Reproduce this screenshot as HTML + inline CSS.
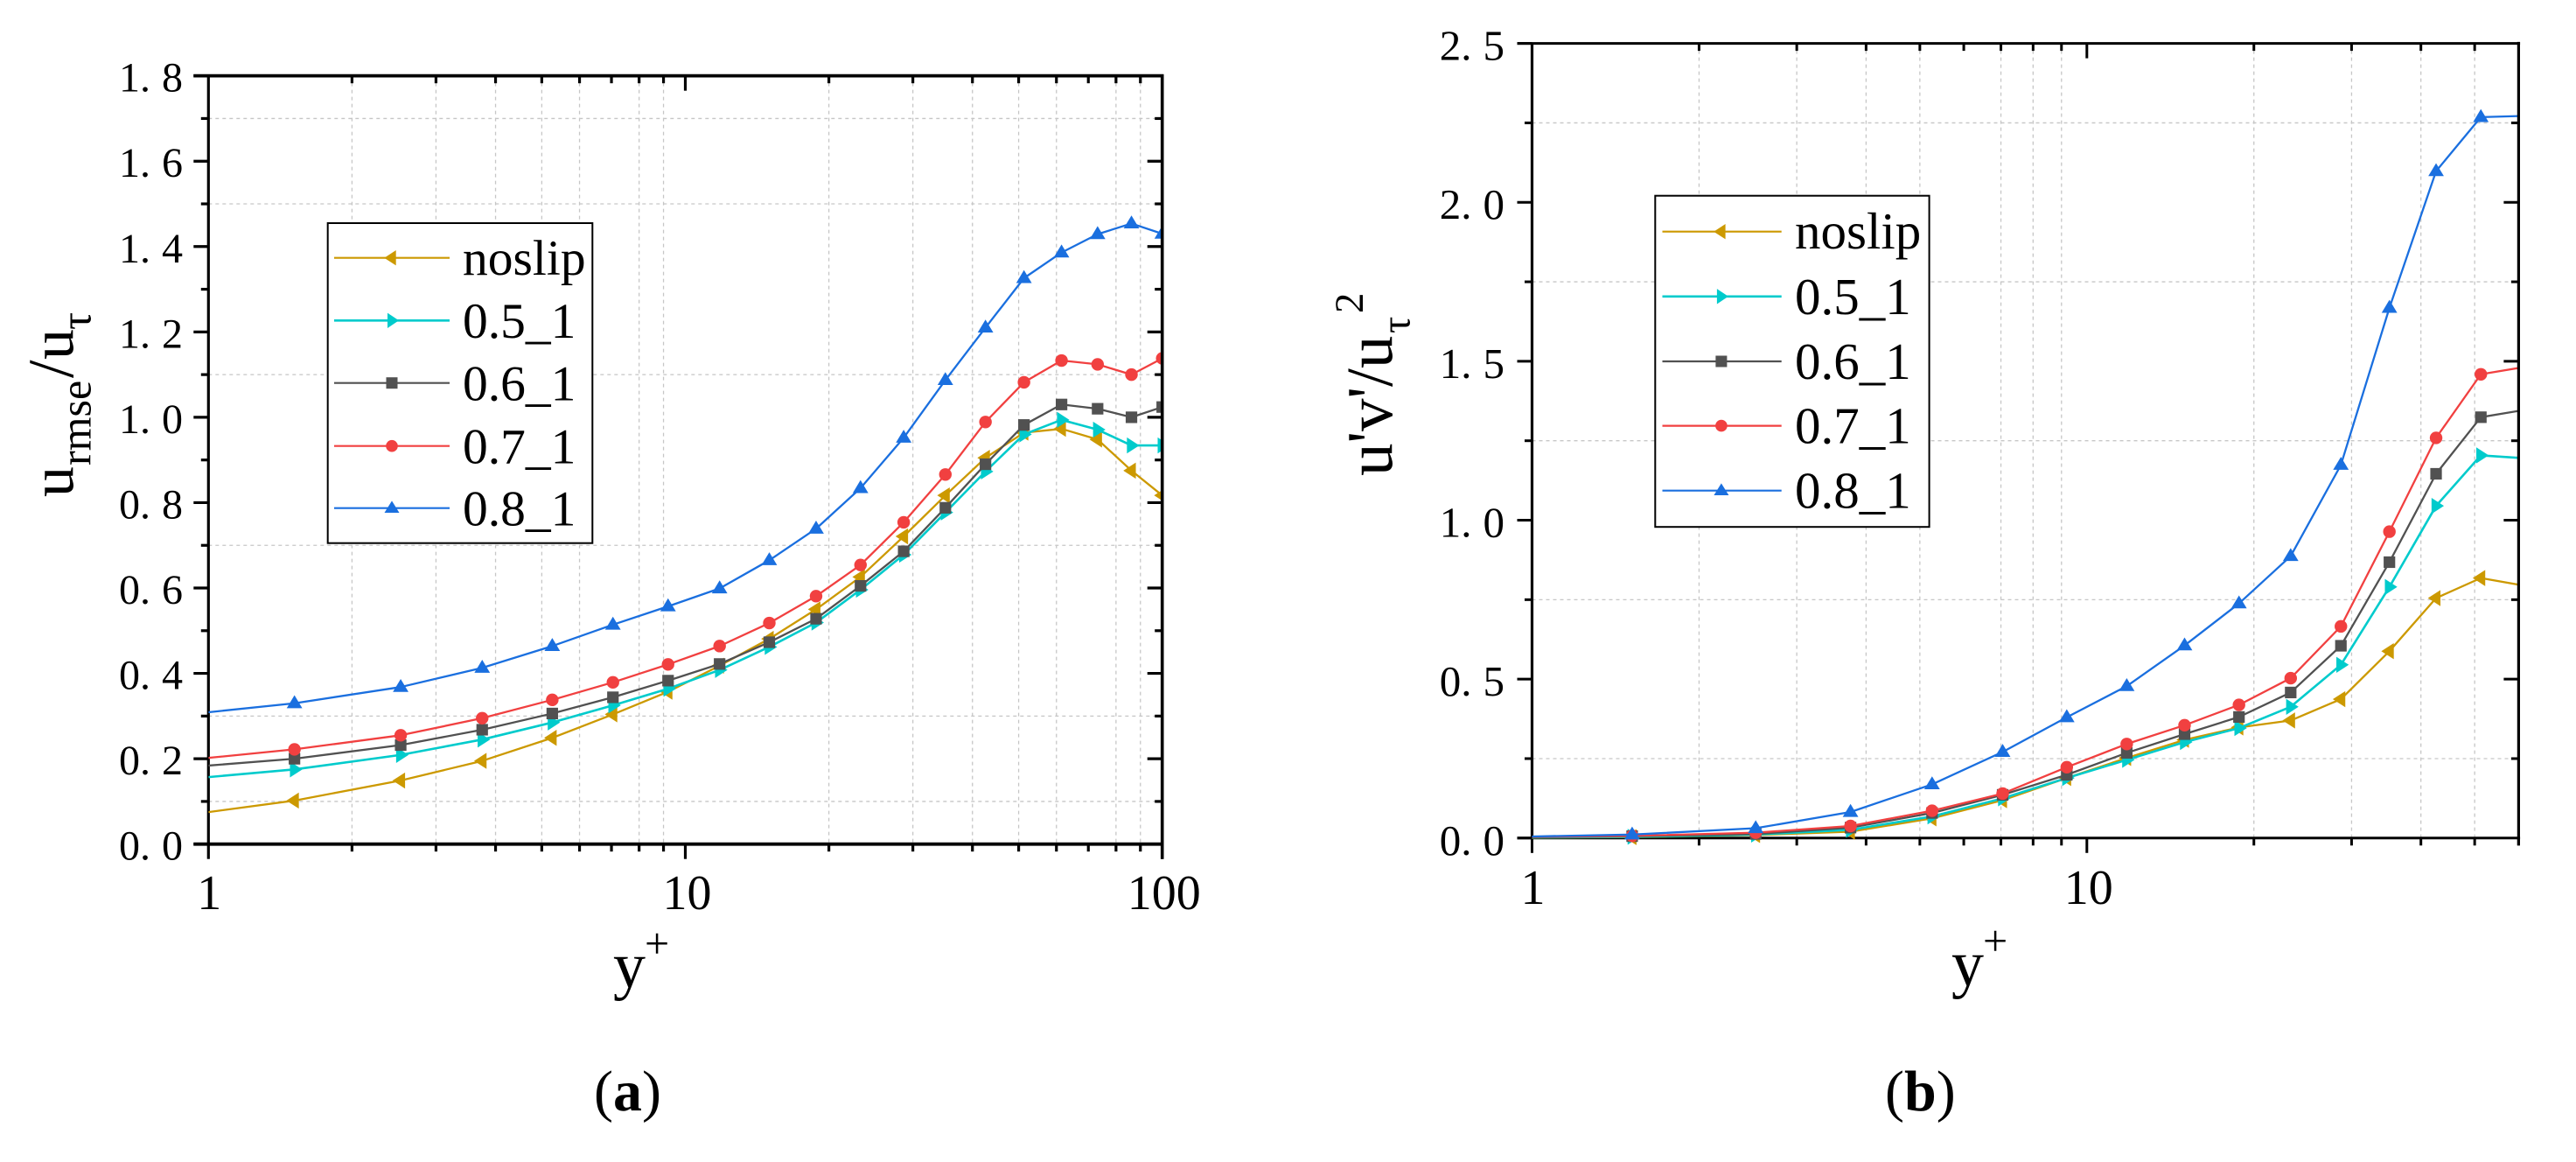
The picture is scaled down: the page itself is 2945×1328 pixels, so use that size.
<!DOCTYPE html>
<html lang="en">
<head>
<meta charset="utf-8">
<title>Velocity fluctuation and Reynolds stress profiles</title>
<style>
html,body{margin:0;padding:0;background:#fff;}
svg{display:block;}
text{font-family:"Liberation Serif","Noto Serif CJK SC",serif;fill:#000;}
</style>
</head>
<body>
<svg id="figure" xmlns="http://www.w3.org/2000/svg" width="2945" height="1328" viewBox="0 0 2945 1328">
  <rect width="2945" height="1328" fill="#fff"/>
  <defs>
    <clipPath id="clip-a"><rect x="238.3" y="30" width="1090.4" height="1030"/></clipPath>
    <clipPath id="clip-b"><rect x="1751.5" y="0" width="1128.2" height="1060"/></clipPath>
  </defs>
  <g id="chart-a"></g>
  <g id="chart-b"></g>

  <g transform="translate(83.7,568) rotate(-90)">
    <text x="0" y="0" font-size="70">u</text>
    <text x="36" y="20" font-size="50">rmse</text>
    <text x="136" y="0" font-size="74">/</text>
    <text x="157" y="0" font-size="70">u</text>
    <text x="191" y="20" font-size="50">τ</text>
  </g>
  <g transform="translate(1591.7,544) rotate(-90)">
    <text x="0" y="0" font-size="75">u'v'/u</text>
    <text x="163" y="20" font-size="48">τ</text>
    <text x="186" y="-33.7" font-size="47">2</text>
  </g>

  <g>
    <text x="701" y="1128" font-size="74">y</text>
    <text x="737" y="1095" font-size="50">+</text>
  </g>
  <g>
    <text x="2231" y="1126" font-size="74">y</text>
    <text x="2267" y="1092" font-size="50">+</text>
  </g>

  <text x="679" y="1269" font-size="66">(<tspan font-weight="bold">a</tspan>)</text>
  <text x="2155" y="1269" font-size="66">(<tspan font-weight="bold">b</tspan>)</text>

  <g>
    <rect x="374.7" y="255" width="302.6" height="365.7" fill="#fff" stroke="#000" stroke-width="2"/>
    <g>
      <line x1="382" x2="514" y1="294.7" y2="294.7" stroke="#CC9900" stroke-width="2.2"/>
      <polygon points="439.3,294.7 452.7,286 452.7,303.4" fill="#CC9900"/>
      <text x="529" y="314" font-size="57.5">noslip</text>
    </g>
    <g>
      <line x1="382" x2="514" y1="366.3" y2="366.3" stroke="#00CBCC" stroke-width="2.6"/>
      <polygon points="456,366.3 443,357.6 443,375" fill="#00CBCC"/>
      <text x="529" y="386" font-size="57.5">0.5_1</text>
    </g>
    <g>
      <line x1="382" x2="514" y1="437.7" y2="437.7" stroke="#515151" stroke-width="2.2"/>
      <rect x="441.5" y="431.2" width="13" height="13" fill="#515151"/>
      <text x="529" y="457.5" font-size="57.5">0.6_1</text>
    </g>
    <g>
      <line x1="382" x2="514" y1="509.7" y2="509.7" stroke="#F14040" stroke-width="2.2"/>
      <circle cx="448" cy="509.7" r="6.8" fill="#F14040"/>
      <text x="529" y="529.5" font-size="57.5">0.7_1</text>
    </g>
    <g>
      <line x1="382" x2="514" y1="580.7" y2="580.7" stroke="#1A6FDF" stroke-width="2.2"/>
      <polygon points="448,572.4 456.5,586 439.5,586" fill="#1A6FDF"/>
      <text x="529" y="600.5" font-size="57.5">0.8_1</text>
    </g>
  </g>

  <g>
    <rect x="1892.3" y="223.7" width="313.3" height="378.5" fill="#fff" stroke="#000" stroke-width="2"/>
    <g>
      <line x1="1900.5" x2="2036.7" y1="264.7" y2="264.7" stroke="#CC9900" stroke-width="2.2"/>
      <polygon points="1959.2,264.7 1972.6,256 1972.6,273.4" fill="#CC9900"/>
      <text x="2052" y="284" font-size="59">noslip</text>
    </g>
    <g>
      <line x1="1900.5" x2="2036.7" y1="338.8" y2="338.8" stroke="#00CBCC" stroke-width="2.6"/>
      <polygon points="1975.9,338.8 1962.9,330.1 1962.9,347.5" fill="#00CBCC"/>
      <text x="2052" y="358.8" font-size="59">0.5_1</text>
    </g>
    <g>
      <line x1="1900.5" x2="2036.7" y1="413" y2="413" stroke="#515151" stroke-width="2.2"/>
      <rect x="1961.4" y="406.5" width="13" height="13" fill="#515151"/>
      <text x="2052" y="433" font-size="59">0.6_1</text>
    </g>
    <g>
      <line x1="1900.5" x2="2036.7" y1="486.6" y2="486.6" stroke="#F14040" stroke-width="2.2"/>
      <circle cx="1967.9" cy="486.6" r="6.8" fill="#F14040"/>
      <text x="2052" y="506.6" font-size="59">0.7_1</text>
    </g>
    <g>
      <line x1="1900.5" x2="2036.7" y1="560.7" y2="560.7" stroke="#1A6FDF" stroke-width="2.2"/>
      <polygon points="1967.9,552.4 1976.4,566 1959.4,566" fill="#1A6FDF"/>
      <text x="2052" y="580.7" font-size="59">0.8_1</text>
    </g>
  </g>
</svg>

<script>
// ---------- shared categories ----------
const seriesNames = ['noslip', '0.5_1', '0.6_1', '0.7_1', '0.8_1'];

// ---------- panel (a) data ----------
const yPlusA   = [1, 1.515, 2.53, 3.75, 5.26, 7.05, 9.2, 11.8, 15.0, 18.8, 23.3, 28.7, 35.1, 42.6, 51.3, 61.5, 73.2, 86.2, 100];
const noslipA  = [0.075, 0.102, 0.149, 0.195, 0.249, 0.304, 0.357, 0.418, 0.481, 0.55, 0.626, 0.721, 0.817, 0.905, 0.964, 0.973, 0.948, 0.875, 0.817];
const s05A     = [0.157, 0.175, 0.209, 0.245, 0.285, 0.325, 0.364, 0.408, 0.462, 0.519, 0.596, 0.678, 0.777, 0.873, 0.96, 0.994, 0.971, 0.934, 0.934];
const s06A     = [0.184, 0.2, 0.232, 0.268, 0.306, 0.344, 0.383, 0.422, 0.473, 0.528, 0.605, 0.686, 0.788, 0.89, 0.982, 1.03, 1.02, 1.0, 1.024];
const s07A     = [0.202, 0.222, 0.255, 0.295, 0.338, 0.379, 0.421, 0.464, 0.518, 0.581, 0.654, 0.754, 0.866, 0.989, 1.082, 1.133, 1.124, 1.1, 1.138];
const s08A     = [0.309, 0.33, 0.368, 0.413, 0.464, 0.514, 0.557, 0.599, 0.665, 0.739, 0.834, 0.952, 1.087, 1.21, 1.326, 1.386, 1.429, 1.454, 1.43];
const xMajorA  = [1, 10, 100];
const xMinorA  = [2, 3, 4, 5, 6, 7, 8, 9, 20, 30, 40, 50, 60, 70, 80, 90];
const xGridA   = [2, 3, 4, 5, 6, 8, 9, 20, 30, 40, 50, 60, 80, 90];
const yMajorA  = ['0.0', '0.2', '0.4', '0.6', '0.8', '1.0', '1.2', '1.4', '1.6', '1.8'];
const yMinorA  = [0.1, 0.3, 0.5, 0.7, 0.9, 1.1, 1.3, 1.5, 1.7];
const yGridA   = [0.1, 0.3, 0.7, 1.1, 1.5, 1.7];

// ---------- panel (b) data ----------
const yPlusB   = [1, 1.515, 2.53, 3.75, 5.26, 7.05, 9.2, 11.8, 15.0, 18.8, 23.3, 28.7, 35.1, 42.6, 51.3, 61.5];
const noslipB  = [0.001, 0.003, 0.0095, 0.02, 0.062, 0.119, 0.189, 0.252, 0.309, 0.348, 0.37, 0.437, 0.588, 0.755, 0.818, 0.794];
const s05B     = [0.002, 0.004, 0.011, 0.026, 0.068, 0.125, 0.189, 0.246, 0.302, 0.346, 0.413, 0.545, 0.79, 1.045, 1.204, 1.195];
const s06B     = [0.003, 0.006, 0.013, 0.033, 0.079, 0.136, 0.199, 0.268, 0.327, 0.381, 0.458, 0.605, 0.868, 1.146, 1.324, 1.347];
const s07B     = [0.004, 0.007, 0.017, 0.038, 0.086, 0.14, 0.223, 0.296, 0.355, 0.419, 0.503, 0.666, 0.964, 1.259, 1.459, 1.482];
const s08B     = [0.005, 0.011, 0.031, 0.082, 0.169, 0.271, 0.38, 0.478, 0.606, 0.738, 0.887, 1.174, 1.668, 2.098, 2.268, 2.272];
const xMajorB  = [1, 10];
const xMinorB  = [2, 3, 4, 5, 6, 7, 8, 9, 20, 30, 40, 50, 60];
const xGridB   = [2, 3, 4, 5, 7, 8, 9, 20, 30, 40, 50];
const yMajorB  = ['0.0', '0.5', '1.0', '1.5', '2.0', '2.5'];
const yMinorB  = [0.25, 0.75, 1.25, 1.75, 2.25];
const yGridB   = [0.25, 0.75, 1.25, 1.75, 2.25];

const SVG_NS = 'http://www.w3.org/2000/svg';
const COLORS = ['#CC9900', '#00CBCC', '#515151', '#F14040', '#1A6FDF'];
const LINE_W = [2.3, 2.6, 2.3, 2.3, 2.3];

function make(tag, parent, attrs) {
  const el = document.createElementNS(SVG_NS, tag);
  for (const k in attrs) el.setAttribute(k, attrs[k]);
  parent.appendChild(el);
  return el;
}

function drawMarker(group, kind, px, py, color) {
  let el;
  if (kind === 0) {
    el = make('polygon', group, {points: (px - 9.3) + ',' + py + ' ' + (px + 5) + ',' + (py - 9.2) + ' ' + (px + 5) + ',' + (py + 9.2), fill: color});
  } else if (kind === 1) {
    el = make('polygon', group, {points: (px + 9) + ',' + py + ' ' + (px - 5.2) + ',' + (py - 9.2) + ' ' + (px - 5.2) + ',' + (py + 9.2), fill: color});
  } else if (kind === 2) {
    el = make('rect', group, {x: px - 6.6, y: py - 6.6, width: 13.2, height: 13.2, fill: color});
  } else if (kind === 3) {
    el = make('circle', group, {cx: px, cy: py, r: 7.2, fill: color});
  } else {
    el = make('polygon', group, {points: px + ',' + (py - 9.2) + ' ' + (px + 8.9) + ',' + (py + 5.6) + ' ' + (px - 8.9) + ',' + (py + 5.6), fill: color});
  }
  
  
}

function drawPanel(cfg) {
  const root = document.getElementById(cfg.id);
  const X = v => cfg.left + cfg.decade * Math.log10(v);
  const Y = v => cfg.bottom - cfg.unit * v;
  const right = X(cfg.xMax), top = Y(cfg.yMax);

  // grid
  const grid = make('g', root, {stroke: '#c6c6c6', 'stroke-width': 1.3, 'stroke-dasharray': '4 4', fill: 'none'});
  
  
  cfg.xGrid.forEach(v => {
    const l = make('line', grid, {x1: X(v), x2: X(v), y1: top, y2: cfg.bottom});
    
    
  });
  cfg.yGrid.forEach(v => {
    const l = make('line', grid, {x1: cfg.left, x2: right, y1: Y(v), y2: Y(v)});
    
    
  });

  // axes
  const axes = make('g', root, {stroke: '#000', 'stroke-width': cfg.tickW});
  
  
  const M = 17, m = 8.5;
  const tick = (x1, y1, x2, y2, name) => {
    const l = make('line', axes, {x1: x1, y1: y1, x2: x2, y2: y2});
    
    
  };
  cfg.xMajor.forEach(v => {
    tick(X(v), cfg.bottom, X(v), cfg.bottom + M, 'x-major-tick');
    if (v !== cfg.xMin && v !== cfg.xMax) tick(X(v), top, X(v), top + M, 'x-major-tick-top');
    const t = make('text', root, {x: X(v) + (v === 1 ? 1 : 2), y: cfg.xLabelY, 'font-size': 56, 'text-anchor': 'middle'});
    
    
    t.textContent = String(v);
  });
  cfg.xMinor.forEach(v => {
    tick(X(v), cfg.bottom, X(v), cfg.bottom + m, 'x-minor-tick');
    if (v !== cfg.xMax) tick(X(v), top, X(v), top + m, 'x-minor-tick-top');
  });
  cfg.yMajor.forEach(label => {
    const v = parseFloat(label);
    tick(cfg.left - M, Y(v), cfg.left, Y(v), 'y-major-tick');
    const parts = label.split('.');
    const t = make('text', root, {x: cfg.yLabelX, y: Y(v) + cfg.yLabelDy, 'font-size': cfg.yLabelSize, 'text-anchor': 'end'});
    
    
    t.appendChild(document.createTextNode(parts[0] + '.'));
    const frac = make('tspan', t, {dx: 13});
    frac.textContent = parts[1];
  });
  cfg.yMinor.forEach(v => tick(cfg.left - m, Y(v), cfg.left, Y(v), 'y-minor-tick'));

  const leftSpine = make('line', axes, {x1: cfg.left, x2: cfg.left, y1: top, y2: cfg.bottom, 'stroke-width': 3.2});
  
  
  const topSpine = make('line', axes, {x1: cfg.left - M, x2: right + 1.7, y1: top, y2: top, 'stroke-width': cfg.hSpine});
  
  
  const bottomSpine = make('line', axes, {x1: cfg.left - M, x2: right + 1.7, y1: cfg.bottom, y2: cfg.bottom, 'stroke-width': cfg.hSpine});
  
  

  // series
  const plot = make('g', root, {'clip-path': 'url(#' + cfg.clip + ')'});
  
  
  cfg.series.forEach((vals, s) => {
    const g = make('g', plot, {});
    
    
    g.setAttribute('aria-label', seriesNames[s]);
    const pts = vals.map((v, i) => X(cfg.xs[i]) + ',' + Y(v)).join(' ');
    const line = make('polyline', g, {points: pts, fill: 'none', stroke: COLORS[s], 'stroke-width': LINE_W[s], 'stroke-linejoin': 'round'});
    
    
    vals.forEach((v, i) => {
      if (cfg.xs[i] <= cfg.xMin || cfg.xs[i] > cfg.xMax) return;
      drawMarker(g, s, X(cfg.xs[i]), Y(v), COLORS[s]);
    });
  });

  // right spine and inward right ticks sit above the clipped marks
  const rightAxis = make('g', root, {stroke: '#000', 'stroke-width': cfg.tickW});
  
  
  make('line', rightAxis, {x1: right, x2: right, y1: top - 1.7, y2: cfg.bottom + cfg.rightTail, 'stroke-width': cfg.rSpine});
  cfg.yMajor.forEach(label => {
    const v = parseFloat(label);
    if (v > 0 && v < cfg.yMax) make('line', rightAxis, {x1: right - M, x2: right, y1: Y(v), y2: Y(v)});
  });
  cfg.yMinor.forEach(v => make('line', rightAxis, {x1: right - m, x2: right, y1: Y(v), y2: Y(v)}));
}

drawPanel({
  id: 'chart-a', clip: 'clip-a',
  left: 238.3, decade: 545.2, bottom: 964.7, unit: 487.8,
  xMin: 1, xMax: 100, yMax: 1.8,
  xs: yPlusA, series: [noslipA, s05A, s06A, s07A, s08A],
  xMajor: xMajorA, xMinor: xMinorA, xGrid: xGridA,
  yMajor: yMajorA, yMinor: yMinorA, yGrid: yGridA,
  xLabelY: 1039, yLabelX: 209, yLabelDy: 18, yLabelSize: 48,
  tickW: 3.2, hSpine: 3.8, rSpine: 3.6, rightTail: 17
});

drawPanel({
  id: 'chart-b', clip: 'clip-b',
  left: 1751.5, decade: 634.3, bottom: 957.8, unit: 363.28,
  xMin: 1, xMax: 60, yMax: 2.5,
  xs: yPlusB, series: [noslipB, s05B, s06B, s07B, s08B],
  xMajor: xMajorB, xMinor: xMinorB, xGrid: xGridB,
  yMajor: yMajorB, yMinor: yMinorB, yGrid: yGridB,
  xLabelY: 1033, yLabelX: 1720, yLabelDy: 19, yLabelSize: 49,
  tickW: 3, hSpine: 3, rSpine: 3.2, rightTail: 8.5
});
</script>
</body>
</html>
